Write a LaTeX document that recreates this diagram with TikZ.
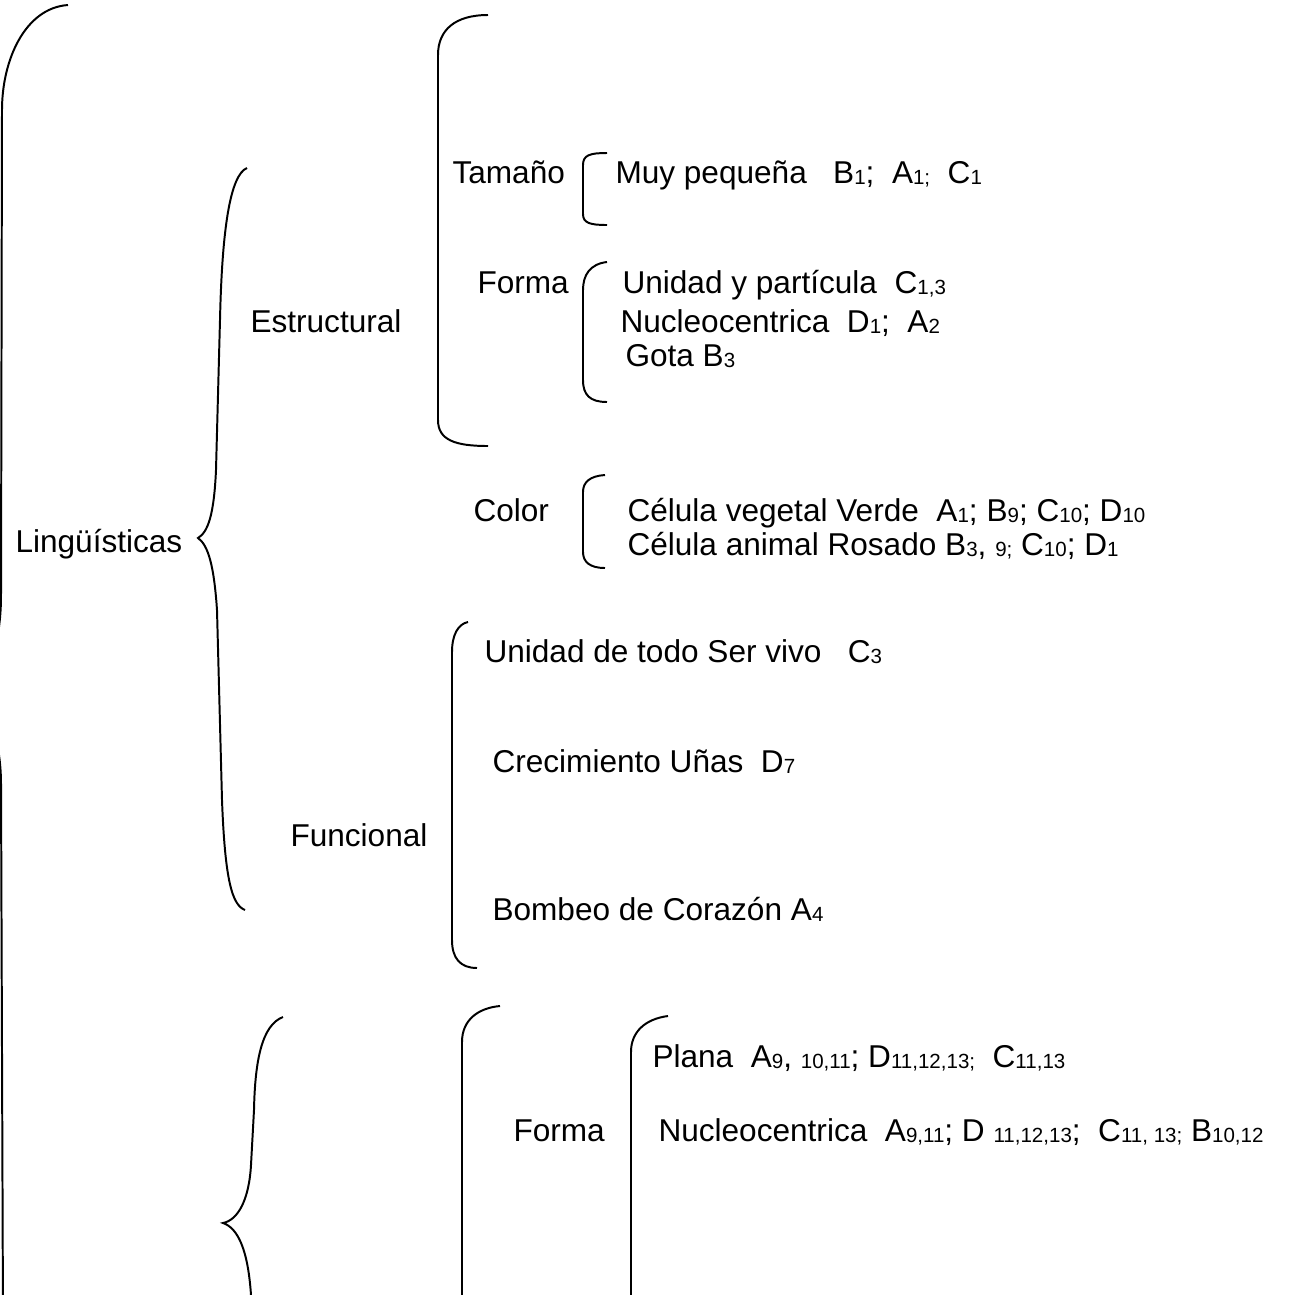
\documentclass[tikz,border=0pt]{standalone}
\usepackage{fontspec}
\setmainfont{Liberation Sans}
\usetikzlibrary{positioning}
\newcommand{\idx}[1]{\raisebox{-0.6pt}{\fontsize{7.8}{8}\selectfont #1}}
\tikzset{txt/.style = {anchor=base west, inner sep=0pt, font=\fontsize{12}{14}\selectfont},
         brk/.style = {line width=0.75pt}}

\begin{document}
\begin{tikzpicture}[x=0.38pt, y=-0.38pt]
  \useasboundingbox (0,0) rectangle (1295,1295);
  \clip (0,0) rectangle (1295,1295);
  % outer brace, tip lies outside the page
  \draw[brk] (68,5) .. controls (25,8) and (2,60) .. (2,110) -- (1,600)
    .. controls (0,650) and (-15,685) .. (-30,690) .. controls (-15,695) and (0,735) .. (1,780)
    -- (3,1320);
  % Linguisticas
  \node[txt] (ling) at (15,552) {Lingüísticas};
  \draw[brk] (247,168) .. controls (230,175) and (222,230) .. (220,320) -- (216,470)
    .. controls (214,515) and (208,532) .. (198,538) .. controls (208,545) and (214,565) .. (217,610)
    -- (222,800) .. controls (225,880) and (232,905) .. (245,910);
  \node[txt] (estr) at (250,332) {Estructural};
  \node[txt] (func) at (290,846) {Funcional};
  \draw[brk] (488,15) .. controls (455,15) and (438,30) .. (438,55) -- (438,420)
    .. controls (438,440) and (455,446) .. (488,446);
  % Tamano
  \node[txt] (tam) at (452,183) {Tamaño};
  \draw[brk] (607,153) .. controls (590,153) and (583,155) .. (583,165) -- (583,214)
    .. controls (583,223) and (590,225) .. (607,225);
  \node[txt] (muy) at (615,183) {Muy pequeña~~~B\idx{1};~~A\idx{1;}~~C\idx{1}};
  % Forma
  \node[txt] (forma) at (477,293) {Forma};
  \draw[brk] (607,262) .. controls (590,264) and (583,275) .. (583,290) -- (583,380)
    .. controls (583,395) and (590,402) .. (607,402);
  \node[txt] (unid) at (622,293) {Unidad y partícula~~C\idx{1,3}};
  \node[txt] (nucl) at (620,332) {Nucleocentrica~~D\idx{1};~~A\idx{2}};
  \node[txt] (gota) at (625,366) {Gota B\idx{3}};
  % Color
  \node[txt] (color) at (473,521) {Color};
  \draw[brk] (605,475) .. controls (590,476) and (583,482) .. (583,492) -- (583,552)
    .. controls (583,562) and (590,568) .. (605,568);
  \node[txt] (verde) at (627,521) {Célula vegetal Verde~~A\idx{1}; B\idx{9}; C\idx{10}; D\idx{10}};
  \node[txt] (rosado) at (627,555) {Célula animal Rosado B\idx{3}, \idx{9;} C\idx{10}; D\idx{1}};
  % Funcional
  \draw[brk] (468,622) .. controls (458,624) and (452,635) .. (452,652) -- (452,940)
    .. controls (452,958) and (460,968) .. (477,968);
  \node[txt] (servivo) at (484,662) {Unidad de todo Ser vivo~~~C\idx{3}};
  \node[txt] (unas) at (492,772) {Crecimiento Uñas~~D\idx{7}};
  \node[txt] (bombeo) at (492,920) {Bombeo de Corazón A\idx{4}};
  % lower part, runs off the page
  \draw[brk] (283,1017) .. controls (262,1025) and (255,1060) .. (254,1110) -- (251,1165)
    .. controls (249,1200) and (238,1220) .. (223,1223) .. controls (238,1228) and (248,1250) .. (251,1295)
    -- (252,1320);
  \draw[brk] (500,1006) .. controls (478,1008) and (462,1020) .. (462,1042) -- (462,1320);
  \node[txt] (forma2) at (513,1141) {Forma};
  \draw[brk] (668,1016) .. controls (645,1019) and (631,1032) .. (631,1052) -- (631,1320);
  \node[txt] (plana) at (652,1067) {Plana~~A\idx{9}, \idx{10,11}; D\idx{11,12,13}\idx{;}~~C\idx{11,13}};
  \node[txt] (nucl2) at (658,1141) {Nucleocentrica~~A\idx{9,11}; D \idx{11,12,13};~~C\idx{11, 13;}~B\idx{10,12}};
\end{tikzpicture}
\end{document}
